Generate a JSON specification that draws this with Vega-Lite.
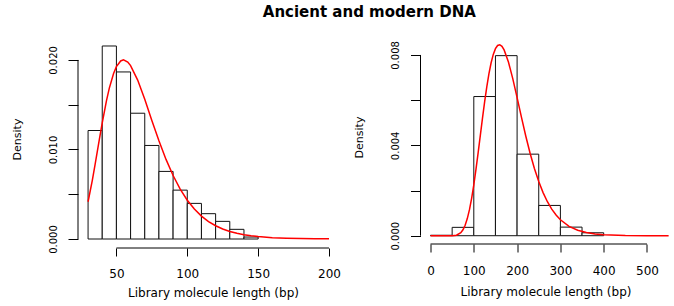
{
  "$schema": "https://vega.github.io/schema/vega-lite/v6.json",
  "padding": {"left": 10, "top": 5, "right": 3, "bottom": 8},
  "autosize": {"type": "pad"},
  "background": "white",
  "title": {"text": "Ancient and modern DNA", "font": "DejaVu Sans", "fontSize": 15, "fontWeight": "bold", "anchor": "middle", "dx": 28, "offset": 10, "color": "black"},
  "config": {
    "view": {"stroke": null},
    "axis": {"grid": false, "domain": false, "labelFont": "DejaVu Sans", "titleFont": "DejaVu Sans", "labelColor": "black", "titleColor": "black", "tickColor": "black", "titleFontWeight": "normal", "labelOverlap": false, "labelFlush": false},
    "concat": {"spacing": 4.5}
  },
  "datasets": {
    "ancientBins": [
      {"start": 30, "end": 40, "density": 0.01212},
      {"start": 40, "end": 50, "density": 0.02156},
      {"start": 50, "end": 60, "density": 0.01866},
      {"start": 60, "end": 70, "density": 0.01405},
      {"start": 70, "end": 80, "density": 0.01045},
      {"start": 80, "end": 90, "density": 0.00755},
      {"start": 90, "end": 100, "density": 0.00546},
      {"start": 100, "end": 110, "density": 0.00398},
      {"start": 110, "end": 120, "density": 0.00283},
      {"start": 120, "end": 130, "density": 0.00197},
      {"start": 130, "end": 140, "density": 0.00108},
      {"start": 140, "end": 150, "density": 0.00022}
    ],
    "ancientCurve": [
      {"length": 30, "density": 0.00416},
      {"length": 33, "density": 0.00656},
      {"length": 35, "density": 0.00836},
      {"length": 38, "density": 0.01116},
      {"length": 40, "density": 0.01298},
      {"length": 43, "density": 0.01546},
      {"length": 45, "density": 0.01685},
      {"length": 48, "density": 0.01849},
      {"length": 50, "density": 0.01925},
      {"length": 53, "density": 0.01989},
      {"length": 55, "density": 0.02001},
      {"length": 58, "density": 0.01977},
      {"length": 60, "density": 0.01937},
      {"length": 65, "density": 0.01775},
      {"length": 70, "density": 0.0156},
      {"length": 75, "density": 0.01325},
      {"length": 80, "density": 0.01097},
      {"length": 85, "density": 0.00889},
      {"length": 90, "density": 0.00709},
      {"length": 95, "density": 0.00557},
      {"length": 100, "density": 0.004335},
      {"length": 105, "density": 0.003343},
      {"length": 110, "density": 0.002561},
      {"length": 115, "density": 0.001951},
      {"length": 120, "density": 0.00148},
      {"length": 125, "density": 0.001119},
      {"length": 130, "density": 0.000845},
      {"length": 135, "density": 0.000636},
      {"length": 140, "density": 0.000478},
      {"length": 145, "density": 0.000359},
      {"length": 150, "density": 0.00027},
      {"length": 160, "density": 0.000152},
      {"length": 170, "density": 0.0000862},
      {"length": 180, "density": 0.0000489},
      {"length": 190, "density": 0.0000279},
      {"length": 200, "density": 0.000016}
    ],
    "modernBins": [
      {"start": 0, "end": 50, "density": 0.00002},
      {"start": 50, "end": 100, "density": 0.00037},
      {"start": 100, "end": 150, "density": 0.00616},
      {"start": 150, "end": 200, "density": 0.00797},
      {"start": 200, "end": 250, "density": 0.00361},
      {"start": 250, "end": 300, "density": 0.00134},
      {"start": 300, "end": 350, "density": 0.00038},
      {"start": 350, "end": 400, "density": 0.00013}
    ],
    "modernCurve": [
      {"length": 0, "density": 0},
      {"length": 40, "density": 0},
      {"length": 50, "density": 0.000002},
      {"length": 60, "density": 0.000024},
      {"length": 70, "density": 0.000134},
      {"length": 75, "density": 0.000262},
      {"length": 80, "density": 0.000464},
      {"length": 85, "density": 0.000757},
      {"length": 90, "density": 0.001152},
      {"length": 95, "density": 0.001653},
      {"length": 100, "density": 0.00225},
      {"length": 105, "density": 0.002932},
      {"length": 110, "density": 0.003669},
      {"length": 115, "density": 0.004433},
      {"length": 120, "density": 0.005194},
      {"length": 125, "density": 0.005922},
      {"length": 130, "density": 0.006588},
      {"length": 135, "density": 0.007172},
      {"length": 140, "density": 0.007654},
      {"length": 145, "density": 0.008024},
      {"length": 150, "density": 0.00828},
      {"length": 155, "density": 0.00842},
      {"length": 160, "density": 0.008452},
      {"length": 165, "density": 0.008382},
      {"length": 170, "density": 0.008225},
      {"length": 180, "density": 0.007689},
      {"length": 190, "density": 0.006953},
      {"length": 200, "density": 0.006113},
      {"length": 210, "density": 0.005248},
      {"length": 220, "density": 0.004415},
      {"length": 230, "density": 0.003652},
      {"length": 240, "density": 0.002976},
      {"length": 250, "density": 0.002397},
      {"length": 260, "density": 0.001907},
      {"length": 270, "density": 0.001504},
      {"length": 280, "density": 0.001177},
      {"length": 290, "density": 0.000914},
      {"length": 300, "density": 0.000706},
      {"length": 320, "density": 0.000416},
      {"length": 340, "density": 0.000241},
      {"length": 360, "density": 0.000138},
      {"length": 380, "density": 0.0000789},
      {"length": 400, "density": 0.0000448},
      {"length": 450, "density": 0.00001},
      {"length": 500, "density": 0.000002},
      {"length": 550, "density": 0}
    ]
  },
  "hconcat": [
    {
      "width": 270,
      "height": 218,
      "layer": [
        {
          "data": {"name": "ancientBins"},
          "mark": {"type": "rect", "fill": "white", "stroke": "#111111", "strokeWidth": 1},
          "encoding": {
            "x": {"field": "start", "type": "quantitative",
              "scale": {"domain": [22.9, 213.4], "nice": false, "zero": false},
              "axis": {"values": [50, 100, 150, 200], "format": "d", "title": "Library molecule length (bp)", "labelFontSize": 12, "titleFontSize": 12, "tickSize": 8, "labelPadding": 12, "titlePadding": 8}},
            "x2": {"field": "end"},
            "y": {"field": "density", "type": "quantitative",
              "scale": {"domain": [-0.001004, 0.023346], "nice": false, "zero": false},
              "axis": {"values": [0, 0.005, 0.01, 0.015, 0.02], "labelExpr": "round(datum.value*1000) % 10 == 0 ? format(datum.value, '.3f') : ''", "labelAngle": -90, "labelAlign": "center", "labelBaseline": "bottom", "labelFontSize": 10, "title": "Density", "titleFontSize": 11, "tickSize": 10, "labelPadding": 10, "titlePadding": 26}},
            "y2": {"datum": 0}
          }
        },
        {
          "data": {"name": "ancientCurve"},
          "mark": {"type": "line", "color": "red", "strokeWidth": 1.5},
          "encoding": {
            "x": {"field": "length", "type": "quantitative"},
            "y": {"field": "density", "type": "quantitative"}
          }
        },
        {
          "data": {"values": [{}]},
          "mark": {"type": "rule", "color": "black", "strokeWidth": 1},
          "encoding": {"x": {"datum": 50}, "x2": {"datum": 200}, "y": {"datum": -0.001004}}
        },
        {
          "data": {"values": [{}]},
          "mark": {"type": "rule", "color": "black", "strokeWidth": 1},
          "encoding": {"x": {"datum": 22.9}, "y": {"datum": 0}, "y2": {"datum": 0.02}}
        }
      ]
    },
    {
      "width": 250,
      "height": 214,
      "layer": [
        {
          "data": {"name": "modernBins"},
          "mark": {"type": "rect", "fill": "white", "stroke": "#111111", "strokeWidth": 1},
          "encoding": {
            "x": {"field": "start", "type": "quantitative",
              "scale": {"domain": [-23.1, 554.3], "nice": false, "zero": false},
              "axis": {"values": [0, 100, 200, 300, 400, 500], "format": "d", "title": "Library molecule length (bp)", "labelFontSize": 12, "titleFontSize": 12, "tickSize": 8, "labelPadding": 13, "titlePadding": 10}},
            "x2": {"field": "end"},
            "y": {"field": "density", "type": "quantitative",
              "scale": {"domain": [-0.000367, 0.009105], "nice": false, "zero": false},
              "axis": {"values": [0, 0.002, 0.004, 0.006, 0.008], "labelExpr": "round(datum.value*1000) % 4 == 0 ? format(datum.value, '.3f') : ''", "labelAngle": -90, "labelAlign": "center", "labelBaseline": "bottom", "labelFontSize": 10, "title": "Density", "titleFontSize": 11, "tickSize": 10, "labelPadding": 10, "titlePadding": 26}},
            "y2": {"datum": 0}
          }
        },
        {
          "data": {"name": "modernCurve"},
          "mark": {"type": "line", "color": "red", "strokeWidth": 1.5},
          "encoding": {
            "x": {"field": "length", "type": "quantitative"},
            "y": {"field": "density", "type": "quantitative"}
          }
        },
        {
          "data": {"values": [{}]},
          "mark": {"type": "rule", "color": "black", "strokeWidth": 1},
          "encoding": {"x": {"datum": 0}, "x2": {"datum": 500}, "y": {"datum": -0.000367}}
        },
        {
          "data": {"values": [{}]},
          "mark": {"type": "rule", "color": "black", "strokeWidth": 1},
          "encoding": {"x": {"datum": -23.1}, "y": {"datum": 0}, "y2": {"datum": 0.008}}
        }
      ]
    }
  ]
}
